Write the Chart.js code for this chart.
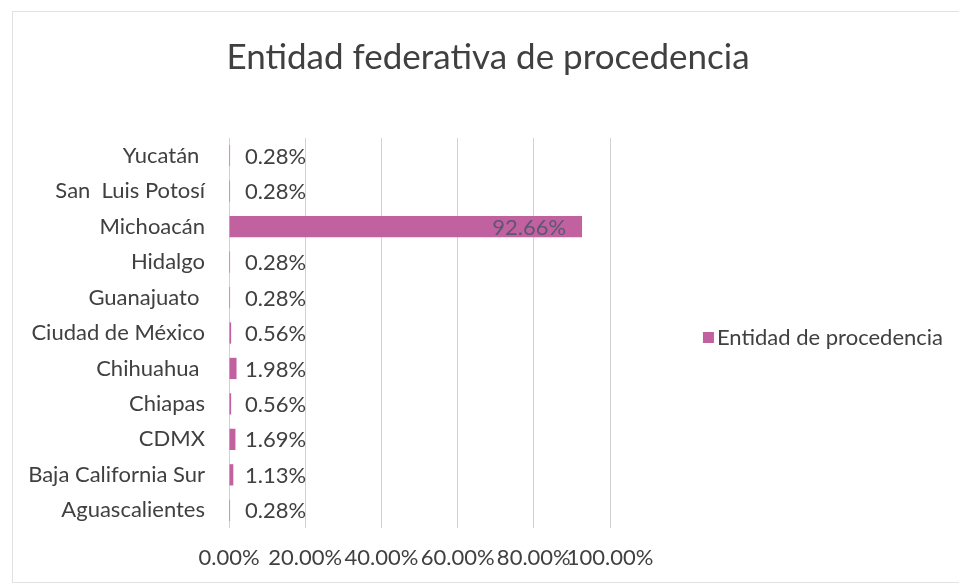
<!DOCTYPE html>
<html>
<head>
<meta charset="utf-8">
<script src="https://cdn.jsdelivr.net/npm/chart.js@4/dist/chart.umd.min.js"></script>
<style>
  html, body { margin: 0; padding: 0; background: #ffffff; }
  #wrap { width: 959px; height: 585px; position: relative; }
</style>
</head>
<body>
<div id="wrap"><canvas id="chart" width="959" height="585"></canvas></div>
<script>
// States of origin, listed top to bottom
const categories = [
  'Yucatán ',
  'San  Luis Potosí',
  'Michoacán',
  'Hidalgo',
  'Guanajuato ',
  'Ciudad de México',
  'Chihuahua ',
  'Chiapas',
  'CDMX',
  'Baja California Sur',
  'Aguascalientes'
];
// Share of records per state (%)
const shares = [0.28, 0.28, 92.66, 0.28, 0.28, 0.56, 1.98, 0.56, 1.69, 1.13, 0.28];
const seriesName = 'Entidad de procedencia';
const chartTitle = 'Entidad federativa de procedencia';
const xTicks = [0, 20, 40, 60, 80, 100];

const FONT = 'Lato, "Open Sans", sans-serif';
const TEXT = '#404040';
const BAR = '#c2619f';

// Dotted frame around the whole chart, plus the title
const framePlugin = {
  id: 'frame',
  beforeDraw(chart) {
    const ctx = chart.ctx;
    ctx.save();
    ctx.fillStyle = '#ffffff';
    ctx.fillRect(0, 0, chart.width, chart.height);
    ctx.strokeStyle = '#c4c4c4';
    ctx.lineWidth = 1;
    ctx.setLineDash([1, 1]);
    ctx.strokeRect(12.5, 11.5, chart.width, 571);
    ctx.setLineDash([]);
    ctx.fillStyle = TEXT;
    ctx.font = '35px ' + FONT;
    ctx.textAlign = 'center';
    ctx.textBaseline = 'middle';
    ctx.fillText(chartTitle, 488, 58);
    ctx.restore();
  }
};

// Value labels: outside the short bars, inside the end of the long one
const valueLabels = {
  id: 'valueLabels',
  afterDatasetsDraw(chart) {
    const ctx = chart.ctx;
    const meta = chart.getDatasetMeta(0);
    const xs = chart.scales.x;
    const zero = xs.getPixelForValue(0);
    ctx.save();
    ctx.font = '22px ' + FONT;
    ctx.textBaseline = 'middle';
    meta.data.forEach((bar, i) => {
      const v = shares[i];
      const txt = v.toFixed(2) + '%';
      if (v > 50) {
        ctx.fillStyle = '#5e5672';
        ctx.textAlign = 'right';
        ctx.fillText(txt, bar.x - 16, bar.y + 1);
      } else {
        ctx.fillStyle = TEXT;
        ctx.textAlign = 'left';
        ctx.fillText(txt, Math.max(bar.x + 8, zero + 16), bar.y + 1);
      }
    });
    ctx.restore();
  }
};

// Legend entry to the right of the plot
const sideLegend = {
  id: 'sideLegend',
  afterDraw(chart) {
    const ctx = chart.ctx;
    const area = chart.chartArea;
    const yc = (area.top + area.bottom) / 2 + 5;
    ctx.save();
    ctx.font = '22px ' + FONT;
    const w = ctx.measureText(seriesName).width;
    const tx = 943 - w;
    ctx.fillStyle = BAR;
    ctx.fillRect(tx - 14, yc - 6, 11, 11);
    ctx.fillStyle = TEXT;
    ctx.textAlign = 'left';
    ctx.textBaseline = 'middle';
    ctx.fillText(seriesName, tx, yc);
    ctx.restore();
  }
};

new Chart(document.getElementById('chart'), {
  type: 'bar',
  data: {
    labels: categories,
    datasets: [{
      label: seriesName,
      data: shares,
      backgroundColor: BAR,
      borderWidth: 0,
      barPercentage: 0.6,
      categoryPercentage: 1.0
    }]
  },
  options: {
    indexAxis: 'y',
    responsive: false,
    animation: false,
    layout: { padding: { left: 0, right: 349, top: 138, bottom: 0 } },
    plugins: {
      legend: { display: false },
      tooltip: { enabled: false },
      title: { display: false }
    },
    scales: {
      x: {
        min: 0,
        max: 100,
        afterBuildTicks(scale) { scale.ticks = xTicks.map(v => ({ value: v })); },
        afterFit(scale) { scale.height = 57; },
        grid: { color: '#d2d2d2', drawTicks: false },
        border: { display: false },
        ticks: {
          color: TEXT,
          padding: 17,
          autoSkip: false,
          maxRotation: 0,
          minRotation: 0,
          font: { family: FONT, size: 22 },
          callback: v => Number(v).toFixed(2) + '%'
        }
      },
      y: {
        afterFit(scale) { scale.width = 229; },
        grid: { display: false, drawTicks: false },
        border: { display: false },
        ticks: {
          color: TEXT,
          padding: 24,
          font: { family: FONT, size: 22 }
        }
      }
    }
  },
  plugins: [framePlugin, valueLabels, sideLegend]
});
</script>
</body>
</html>
